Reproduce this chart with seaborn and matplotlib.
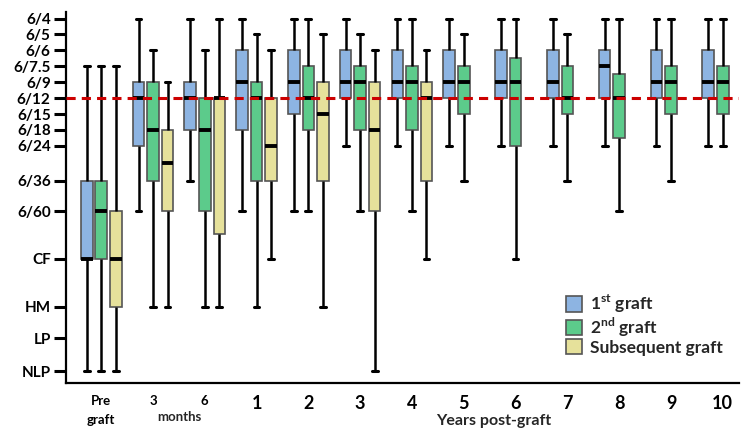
import numpy as np
import pandas as pd
import matplotlib
matplotlib.use('Agg')
import matplotlib.pyplot as plt
from matplotlib.patches import Patch
import seaborn as sns

sns.set_style('white')
plt.rcParams['font.family'] = ['Lato', 'DejaVu Sans']
plt.rcParams['font.weight'] = 'bold'
plt.rcParams['mathtext.fontset'] = 'custom'
plt.rcParams['mathtext.bf'] = 'Lato:bold'
plt.rcParams['mathtext.rm'] = 'Lato:bold'

#%% Data
# Visual acuity rows on the y axis and where each row sits on the chart scale
va_labels = ['6/4', '6/5', '6/6', '6/7.5', '6/9', '6/12', '6/15', '6/18', '6/24',
             '6/36', '6/60', 'CF', 'HM', 'LP', 'NLP']
va_pos = [0, 1, 2, 3, 4, 5, 6, 7, 8, 10.2, 12.1, 15.1, 18.1, 20.1, 22.15]

groups = ['pre', '3m', '6m', '1', '2', '3', '4', '5', '6', '7', '8', '9', '10']
group_labels = ['Pre\ngraft', '3', '6', '1', '2', '3', '4', '5', '6', '7', '8', '9', '10']
grafts = ['1st', '2nd', 'Subsequent']

# per group: top whisker, box top, median, box bottom, bottom whisker (chart scale)
first_graft = [
    [3, 10.2, 15.1, 15.1, 22.15],
    [0, 4, 5, 8, 12.1],
    [0, 4, 5, 7, 10.2],
    [0, 2, 4, 7, 12.1],
    [0, 2, 4, 6, 12.1],
    [0, 2, 4, 5, 8],
    [0, 2, 4, 5, 8],
    [0, 2, 4, 5, 8],
    [0, 2, 4, 5, 8],
    [0, 2, 4, 5, 8],
    [0, 2, 3, 5, 8],
    [0, 2, 4, 5, 8],
    [0, 2, 4, 5, 8],
]
second_graft = [
    [3, 10.2, 12.1, 15.1, 22.15],
    [2, 4, 7, 10.2, 18.1],
    [2, 5, 7, 12.1, 18.1],
    [1, 4, 5, 10.2, 18.1],
    [0, 3, 5, 7, 12.1],
    [1, 3, 4, 7, 12.1],
    [0, 3, 4, 7, 12.1],
    [1, 3, 4, 6, 10.2],
    [0, 2.5, 4, 8, 15.1],
    [1, 3, 5, 6, 10.2],
    [0, 3.5, 5, 7.5, 12.1],
    [0, 3, 4, 6, 10.2],
    [0, 3, 4, 6, 8],
]
subsequent_graft = [
    [3, 12.1, 15.1, 18.1, 22.15],
    [4, 7, 9.1, 12.1, 18.1],
    [0, 5, 5, 13.55, 18.1],
    [2, 5, 8, 10.2, 15.1],
    [1, 4, 6, 10.2, 18.1],
    [2, 4, 7, 12.1, 22.15],
    [2, 4, 5, 10.2, 15.1],
]

colors = ['#8DB4E2', '#5CCB8B', '#E6E19B']
target_line = 5  # 6/12

#%% Long table for seaborn
rows = []
for graft, stats in zip(grafts, [first_graft, second_graft, subsequent_graft]):
    for g, s in zip(groups, stats):
        for v in s:
            rows.append((g, graft, v))
df = pd.DataFrame(rows, columns=['group', 'graft', 'va'])

#%% Plot
fig, ax = plt.subplots(figsize=(7.44, 4.40), dpi=100)
fig.subplots_adjust(left=0.0887, right=0.993, top=0.973, bottom=0.1295)

sns.boxplot(data=df, x='group', y='va', hue='graft', order=groups, hue_order=grafts,
            palette=colors, saturation=1, whis=(0, 100), showfliers=False,
            width=0.84, gap=0.2, linecolor='#555555', linewidth=1.2,
            medianprops=dict(color='black', linewidth=2.8),
            whiskerprops=dict(color='black', linewidth=1.8),
            capprops=dict(color='black', linewidth=2.2),
            legend=False, ax=ax)

ax.axhline(target_line, color='#CC0000', lw=2.2, ls=(0, (3, 2)), zorder=10)

ax.set_xlim(-0.68, 12.31)
ax.set_ylim(22.9, -0.42)
ax.set_yticks(va_pos, va_labels)
ax.tick_params(axis='y', left=True, length=9, width=2.2, labelsize=11, pad=2,
               color='black', labelcolor='black')
ax.set_xticks(range(len(groups)), group_labels)
ax.tick_params(axis='x', bottom=False, labelsize=13, pad=5, labelcolor='black')
for i, lab in enumerate(ax.get_xticklabels()):
    if i < 3:
        lab.set_fontsize(9.5)
        lab.set_linespacing(1.7)
ax.text(1.5, -0.092, 'months', transform=ax.get_xaxis_transform(), ha='center', va='center',
        fontsize=9.5, fontweight='bold')
ax.text(7.57, -0.102, 'Years post-graft', transform=ax.get_xaxis_transform(), ha='center',
        va='center', fontsize=11.5, fontweight='bold')
ax.set_xlabel('')
ax.set_ylabel('')
sns.despine(ax=ax)
for side in ['left', 'bottom']:
    ax.spines[side].set_linewidth(1.6)
    ax.spines[side].set_color('black')

handles = [Patch(facecolor=c, edgecolor='#555555', lw=1.2) for c in colors]
labels = [r'1$^{\mathbf{st}}$ graft', r'2$^{\mathbf{nd}}$ graft', 'Subsequent graft']
ax.legend(handles, labels, loc='upper left', bbox_to_anchor=(0.733, 0.262), frameon=False,
          fontsize=12.5, handlelength=0.9, handleheight=1.0, handletextpad=0.5,
          labelspacing=0.02, borderaxespad=0)

fig.savefig('out.png', dpi=100)
